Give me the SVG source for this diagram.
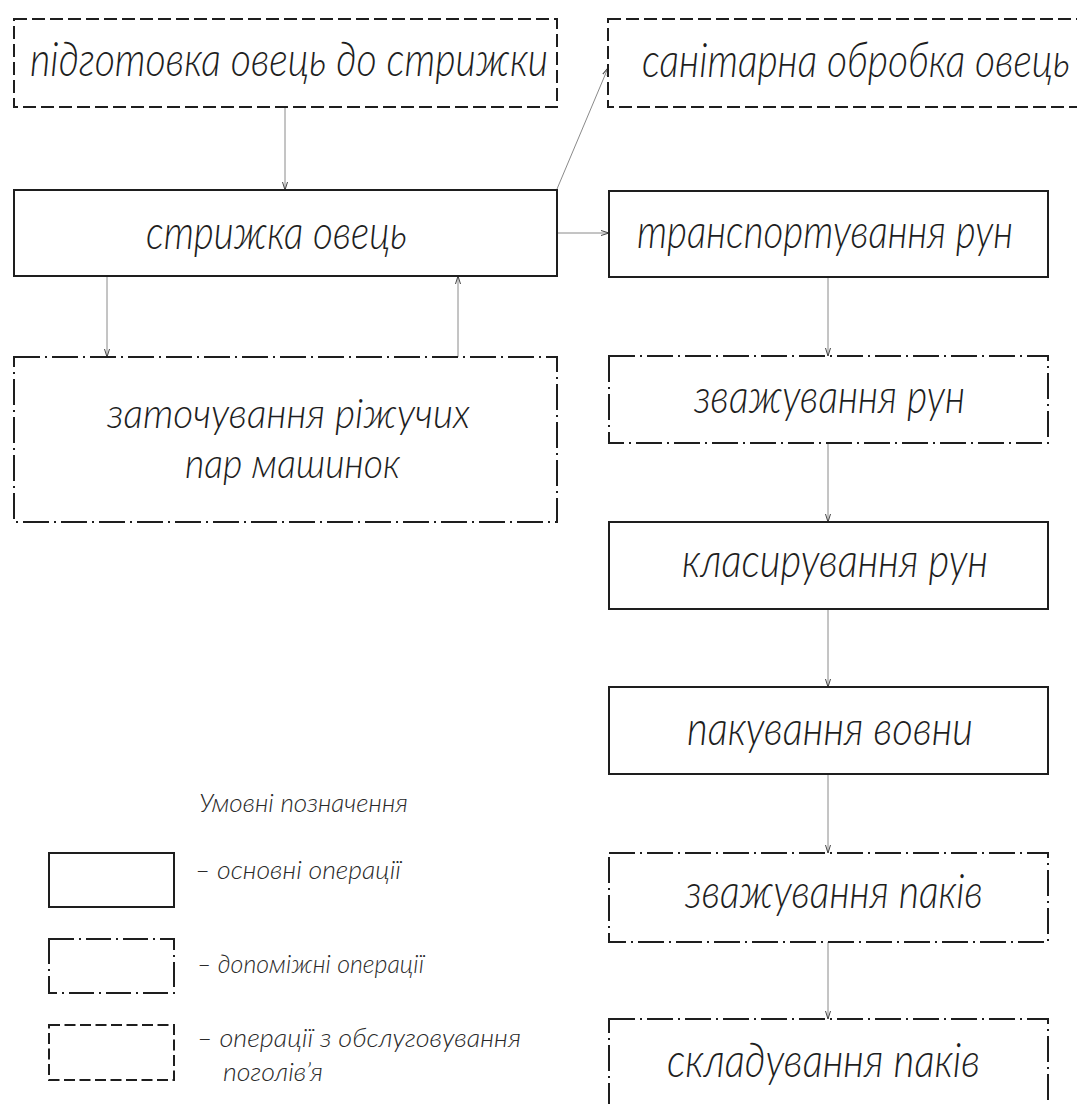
<svg xmlns="http://www.w3.org/2000/svg" width="1077" height="1104" viewBox="0 0 1077 1104">
<defs>
<style>
.box{fill:none;stroke:#1e1e1e;stroke-width:2}
.solid{}
.dash{stroke-dasharray:13 5}
.dashdot{stroke-dasharray:26 5 2 5}
.ldash{stroke-dasharray:11 4.5}
.ldashdot{stroke-dasharray:25 5 2 5}
.conn{fill:none;stroke:#8a8a8a;stroke-width:1}
.t{font-family:Lato,"Liberation Sans","DejaVu Sans",sans-serif;font-style:italic;font-weight:300;font-size:47px;fill:#1e1e1e}
.t2{font-size:41px}
.lt{font-family:Lato,"Liberation Sans","DejaVu Sans",sans-serif;font-style:italic;font-weight:300;font-size:26px;fill:#2a2a2a}
</style>
<marker id="arr" markerWidth="8" markerHeight="6" refX="8" refY="3" orient="auto" markerUnits="userSpaceOnUse">
<path d="M0,0.5 L8,3 L0,5.5" fill="none" stroke="#444" stroke-width="1"/>
</marker>
</defs>
<rect width="1077" height="1104" fill="#fff"/>

<g id="connectors">
<line class="conn" x1="285" y1="107" x2="285" y2="190" marker-end="url(#arr)"/>
<line class="conn" x1="557" y1="189" x2="608" y2="68" marker-end="url(#arr)"/>
<line class="conn" x1="557" y1="233" x2="609" y2="233" marker-end="url(#arr)"/>
<line class="conn" x1="107" y1="276" x2="107" y2="357" marker-end="url(#arr)"/>
<line class="conn" x1="458" y1="357" x2="458" y2="276" marker-end="url(#arr)"/>
<line class="conn" x1="828" y1="277" x2="828" y2="356" marker-end="url(#arr)"/>
<line class="conn" x1="828" y1="443" x2="828" y2="522" marker-end="url(#arr)"/>
<line class="conn" x1="828" y1="609" x2="828" y2="687" marker-end="url(#arr)"/>
<line class="conn" x1="828" y1="774" x2="828" y2="853" marker-end="url(#arr)"/>
<line class="conn" x1="828" y1="942" x2="828" y2="1019" marker-end="url(#arr)"/>
</g>

<g id="node-pidgotovka">
<rect class="box dash" x="14" y="19" width="543" height="88"/>
<text class="t" x="30" y="76" textLength="518" lengthAdjust="spacingAndGlyphs">підготовка овець до стрижки</text>
</g>
<g id="node-sanitarna">
<rect class="box dash" x="608" y="19" width="490" height="88"/>
<text class="t" x="642" y="77" textLength="428" lengthAdjust="spacingAndGlyphs">санітарна обробка овець</text>
</g>
<g id="node-stryzhka">
<rect class="box solid" x="14" y="190" width="543" height="86"/>
<text class="t" x="146" y="249" textLength="261" lengthAdjust="spacingAndGlyphs">стрижка овець</text>
</g>
<g id="node-transport">
<rect class="box solid" x="609" y="191" width="439" height="86"/>
<text class="t" x="637" y="248" textLength="376" lengthAdjust="spacingAndGlyphs">транспортування рун</text>
</g>
<g id="node-zatochuvannia">
<rect class="box dashdot" x="14" y="357" width="543" height="165"/>
<text class="t t2" x="107" y="428" textLength="363" lengthAdjust="spacingAndGlyphs">заточування ріжучих</text>
<text class="t t2" x="185" y="478" textLength="215" lengthAdjust="spacingAndGlyphs">пар машинок</text>
</g>
<g id="node-zvazh-run">
<rect class="box dashdot" x="609" y="356" width="439" height="87"/>
<text class="t" x="694" y="413" textLength="271" lengthAdjust="spacingAndGlyphs">зважування рун</text>
</g>
<g id="node-klasyr">
<rect class="box solid" x="609" y="522" width="439" height="87"/>
<text class="t" x="682" y="577" textLength="306" lengthAdjust="spacingAndGlyphs">класирування рун</text>
</g>
<g id="node-pakuv">
<rect class="box solid" x="609" y="687" width="439" height="87"/>
<text class="t" x="687" y="745" textLength="286" lengthAdjust="spacingAndGlyphs">пакування вовни</text>
</g>
<g id="node-zvazh-pakiv">
<rect class="box dashdot" x="609" y="853" width="439" height="89"/>
<text class="t" x="685" y="908" textLength="298" lengthAdjust="spacingAndGlyphs">зважування паків</text>
</g>
<g id="node-sklad">
<rect class="box dashdot" x="609" y="1019" width="439" height="100"/>
<text class="t" x="667" y="1077" textLength="313" lengthAdjust="spacingAndGlyphs">складування паків</text>
</g>

<g id="legend">
<text class="lt" x="199" y="812" textLength="209" lengthAdjust="spacingAndGlyphs">Умовні позначення</text>
<rect class="box solid" x="49" y="853" width="125" height="54"/>
<text class="lt" x="195" y="879" textLength="206" lengthAdjust="spacingAndGlyphs">– основні операції</text>
<rect class="box ldashdot" x="49" y="939" width="125" height="54"/>
<text class="lt" x="197" y="973" textLength="227" lengthAdjust="spacingAndGlyphs">– допоміжні операції</text>
<rect class="box ldash" x="49" y="1025" width="125" height="55"/>
<text class="lt" x="197" y="1047" textLength="324" lengthAdjust="spacingAndGlyphs">– операції з обслуговування</text>
<text class="lt" x="223" y="1081" textLength="100" lengthAdjust="spacingAndGlyphs">поголів’я</text>
</g>
</svg>
